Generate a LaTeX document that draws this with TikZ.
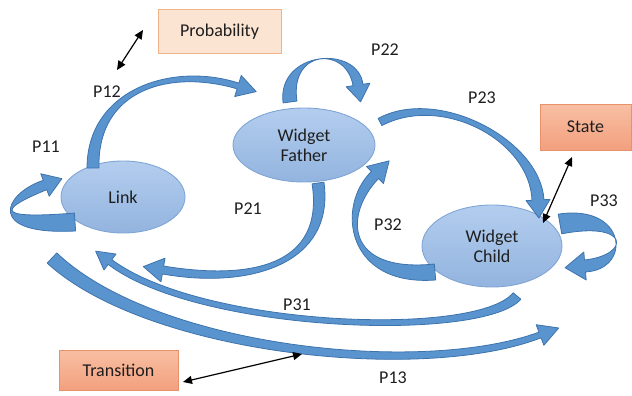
\documentclass[tikz,border=0pt]{standalone}
\usepackage{fontspec}
\setmainfont{Carlito}
\usetikzlibrary{calc,arrows.meta,shapes.geometric}
\definecolor{elltop}{HTML}{B3CDEE}
\definecolor{ellbot}{HTML}{93B4DF}
\definecolor{elldraw}{HTML}{7FA5D5}
\definecolor{arrfill}{HTML}{5A94CF}
\definecolor{arrdraw}{HTML}{3D73AD}
\definecolor{probfill}{HTML}{FCE4D3}
\definecolor{probdraw}{HTML}{F2B287}
\definecolor{boxtop}{HTML}{F8BFA3}
\definecolor{boxbot}{HTML}{F3A07E}
\definecolor{boxdraw}{HTML}{E8916C}
\definecolor{txt}{HTML}{1E1E1E}
% block arrow: #1 start, #2 ctrl1, #3 ctrl2, #4 end(neck), #5 tail half width, #6 neck half width, #7 head half width, #8 head length
\newcommand\blockarrow[8]{%
  \pgfmathsetmacro\bwA{#5}%
  \pgfmathsetmacro\bwB{#6}%
  \pgfmathsetmacro\bwC{(2*#5+#6)/3}%
  \pgfmathsetmacro\bwD{(#5+2*#6)/3}%
  \coordinate (bS) at (#1);
  \coordinate (bA) at (#2);
  \coordinate (bB) at (#3);
  \coordinate (bE) at (#4);
  \filldraw[bandarrow]
    ($(bS)!\bwA pt!90:(bA)$) .. controls ($(bA)!\bwC pt!-90:(bS)$) and ($(bB)!\bwD pt!90:(bE)$) ..
    ($(bE)!\bwB pt!-90:(bB)$) -- ($(bE)!#7pt!-90:(bB)$) -- ($(bE)!-#8pt!(bB)$) --
    ($(bE)!#7pt!90:(bB)$) -- ($(bE)!\bwB pt!90:(bB)$) .. controls ($(bB)!\bwD pt!-90:(bE)$) and ($(bA)!\bwC pt!90:(bS)$) ..
    ($(bS)!\bwA pt!-90:(bA)$) -- cycle;
}
\begin{document}
\begin{tikzpicture}[x=1pt,y=-1pt,
  stnode/.style={ellipse,draw=elldraw,line width=0.9pt,top color=elltop,bottom color=ellbot,
    inner sep=0pt,text=txt,align=center,font=\fontsize{18}{20}\selectfont},
  lbl/.style={text=txt,inner sep=1pt,font=\fontsize{18}{20}\selectfont},
  infobox/.style={rectangle,line width=1pt,text=txt,inner sep=0pt,font=\fontsize{18}{20}\selectfont},
  dbl/.style={{Triangle[length=9pt,width=8pt]}-{Triangle[length=9pt,width=8pt]},line width=1.2pt,black},
  bandarrow/.style={fill=arrfill,draw=arrdraw,line width=0.8pt,line join=round}]
\useasboundingbox (0,0) rectangle (632,396);

% states
\node[stnode,minimum width=124pt,minimum height=72pt] (link) at (123,197) {Link};
\node[stnode,minimum width=142pt,minimum height=74pt] (father) at (304,145) {Widget\\Father};
\node[stnode,minimum width=140pt,minimum height=82pt] (child) at (492,246) {Widget\\Child};

% info boxes
\node[infobox,fill=probfill,draw=probdraw,minimum width=123pt,minimum height=44pt] (prob) at (219.5,31.5) {Probability};
\node[infobox,top color=boxtop,bottom color=boxbot,draw=boxdraw,minimum width=91pt,minimum height=46pt] (statebox) at (585.5,127) {State};
\node[infobox,top color=boxtop,bottom color=boxbot,draw=boxdraw,minimum width=119pt,minimum height=40pt] (trans) at (118.5,370) {Transition};

% transition arrows
\coordinate (p11s) at (75,222);   \coordinate (p11e) at (45,185);
\blockarrow{p11s}{-15,228}{5,200}{p11e}{9}{5}{12}{18}
\coordinate (p12s) at (93,168);   \coordinate (p12e) at (238,86);
\blockarrow{p12s}{92,90}{170,65}{p12e}{6}{3}{11}{19}
\coordinate (p22s) at (290,102);  \coordinate (p22e) at (358,85);
\blockarrow{p22s}{283,50}{352,45}{p22e}{7}{5}{12}{17}
\coordinate (p23s) at (380,122);  \coordinate (p23e) at (538,200);
\blockarrow{p23s}{440,90}{535,140}{p23e}{4}{6}{12}{18}
\coordinate (p21s) at (318,183);  \coordinate (p21e) at (163,270);
\blockarrow{p21s}{330,265}{250,285}{p21e}{6}{4}{12}{20}
\coordinate (p32s) at (435,272);  \coordinate (p32e) at (375,175);
\blockarrow{p32s}{345,280}{340,210}{p32e}{8}{5}{12}{20}
\coordinate (p33s) at (560,224);  \coordinate (p33e) at (585,266);
\blockarrow{p33s}{628,212}{632,262}{p33e}{10}{6}{14}{20}
\coordinate (p31s) at (517,296);  \coordinate (p31e) at (110,262);
\blockarrow{p31s}{480,340}{200,330}{p31e}{5}{3}{10}{18}
\coordinate (p13s) at (52,258);   \coordinate (p13e) at (540,335);
\blockarrow{p13s}{150,350}{420,380}{p13e}{7}{3}{11}{20}

% labels
\node[lbl] (l11) at (46,147) {P11};
\node[lbl] (l12) at (107,92) {P12};
\node[lbl] (l22) at (385,50) {P22};
\node[lbl] (l23) at (482,98) {P23};
\node[lbl] (l21) at (248,209) {P21};
\node[lbl] (l32) at (388,225) {P32};
\node[lbl] (l33) at (604,201) {P33};
\node[lbl] (l31) at (297,305) {P31};
\node[lbl] (l13) at (393,378) {P13};

% concept links
\coordinate (pa1) at (117,70);  \coordinate (pa2) at (143,30);
\draw[dbl] (pa1) -- (pa2);
\coordinate (sa1) at (543,223); \coordinate (sa2) at (572,157);
\draw[dbl] (sa1) -- (sa2);
\coordinate (ta1) at (183,382); \coordinate (ta2) at (302,354);
\draw[dbl] (ta1) -- (ta2);
\end{tikzpicture}
\end{document}
